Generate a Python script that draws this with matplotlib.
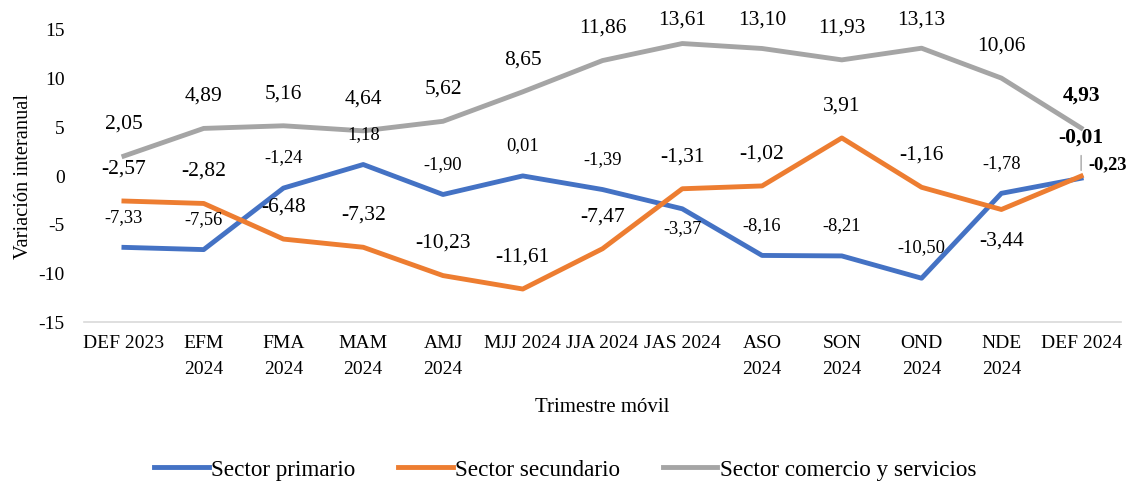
import matplotlib
matplotlib.use("Agg")
import matplotlib.pyplot as plt

# Datos
trimestres = ["DEF 2023", "EFM\n2024", "FMA\n2024", "MAM\n2024", "AMJ\n2024",
              "MJJ 2024", "JJA 2024", "JAS 2024", "ASO\n2024", "SON\n2024",
              "OND\n2024", "NDE\n2024", "DEF 2024"]
primario = [-7.33, -7.56, -1.24, 1.18, -1.90, 0.01, -1.39, -3.37, -8.16,
            -8.21, -10.50, -1.78, -0.23]
secundario = [-2.57, -2.82, -6.48, -7.32, -10.23, -11.61, -7.47, -1.31,
              -1.02, 3.91, -1.16, -3.44, -0.01]
comercio = [2.05, 4.89, 5.16, 4.64, 5.62, 8.65, 11.86, 13.61, 13.10, 11.93,
            13.13, 10.06, 4.93]

series = [
    ("Sector primario", primario, "#4472C4", 13.3, 3.1),
    ("Sector secundario", secundario, "#ED7D31", 15.5, 3.3),
    ("Sector comercio y servicios", comercio, "#A5A5A5", 15.5, 3.3),
]
# etiquetas que van debajo del punto
debajo = {("Sector primario", 7): -2.0, ("Sector secundario", 11): -3.2}

plt.rcParams["font.family"] = ["Liberation Serif", "DejaVu Serif"]
plt.rcParams["axes.unicode_minus"] = False


def fmt(v):
    return f"{v:.2f}".replace(".", ",")


fig = plt.figure(figsize=(11.28, 4.83), dpi=100)
ax = fig.add_axes([0.0745, 0.3333, 0.9193, 0.6046])

x = list(range(len(trimestres)))
ultimo = len(x) - 1

for nombre, valores, color, tam, sube in series:
    ax.plot(x, valores, color=color, linewidth=3.5, label=nombre, zorder=2)

for nombre, valores, color, tam, sube in series:
    for i, v in enumerate(valores[:-1]):
        dy = debajo.get((nombre, i), sube)
        ax.text(i, min(v + dy, 16.0), fmt(v), ha="center", va="center",
                fontsize=tam, color="black", clip_on=False, zorder=3)

# etiquetas del último trimestre (en negrita)
ax.text(ultimo, min(comercio[-1] + 3.3, 16.0), fmt(comercio[-1]),
        ha="center", va="center", fontsize=15.5, fontweight="bold",
        clip_on=False)
ax.annotate("", xy=(ultimo, secundario[-1] + 0.3),
            xytext=(ultimo, secundario[-1] + 2.4),
            arrowprops=dict(arrowstyle="-", color="#A5A5A5", lw=1))
ax.text(ultimo, secundario[-1] + 4.0, fmt(secundario[-1]),
        ha="center", va="center", fontsize=15.5, fontweight="bold",
        clip_on=False)
ax.text(ultimo + 0.09, primario[-1] + 1.4, fmt(primario[-1]),
        ha="left", va="center", fontsize=13.3, fontweight="bold",
        clip_on=False)

ax.set_xlim(-0.5, len(x) - 0.5)
ax.set_ylim(-15, 15)
ax.set_yticks([-15, -10, -5, 0, 5, 10, 15])
ax.set_xticks(x)
ax.set_xticklabels(trimestres, fontsize=13.5, linespacing=1.75, va="top")
ax.tick_params(axis="both", length=0, labelsize=14)
ax.tick_params(axis="y", pad=14)
ax.tick_params(axis="x", pad=9)

for lado in ["top", "right", "left"]:
    ax.spines[lado].set_visible(False)
ax.spines["bottom"].set_color("#D9D9D9")
ax.spines["bottom"].set_linewidth(1.2)

ax.set_ylabel("Variación interanual", fontsize=14.7, labelpad=4)
fig.text(0.534, 0.157, "Trimestre móvil", ha="center", va="center",
         fontsize=15)

fig.legend(loc="center", bbox_to_anchor=(0.501, 0.027), ncol=3,
           frameon=False, fontsize=16.7, handlelength=2.35,
           handletextpad=0.1, columnspacing=1.85)

fig.savefig("out.png", dpi=100)
